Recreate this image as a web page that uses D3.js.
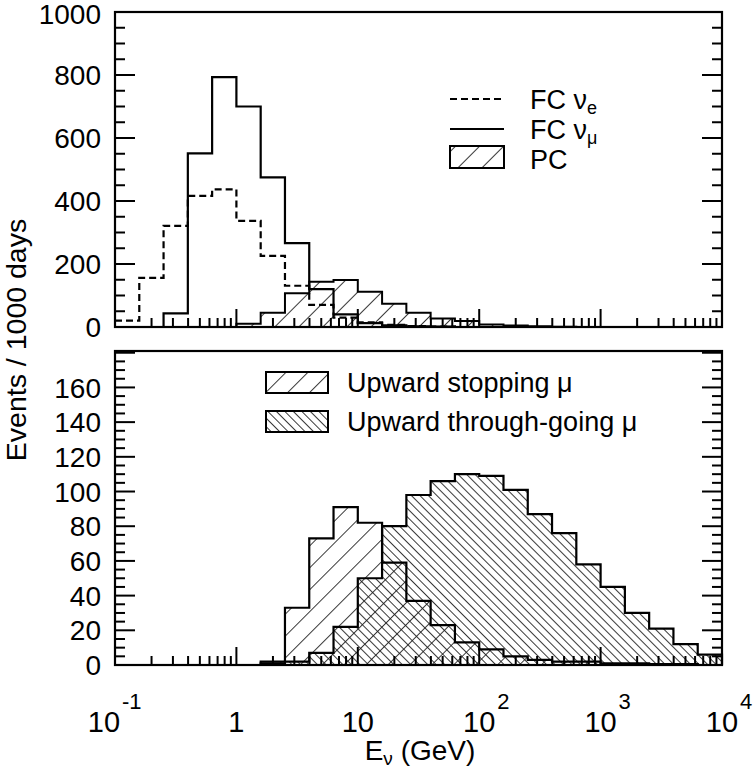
<!DOCTYPE html>
<html><head><meta charset="utf-8">
<script src="https://cdn.jsdelivr.net/npm/d3@7"></script>
<style>
html,body{margin:0;padding:0;background:#fff;}
svg{display:block;}
text{font-family:"Liberation Sans",Arial,Helvetica,sans-serif;fill:#000;}
</style></head>
<body>
<svg id="chart" width="756" height="770"></svg>
<script>
// ---- data ----
const binEdges = [0.1,0.1585,0.2512,0.3981,0.631,1,1.585,2.512,3.981,6.31,10,15.85,25.12,39.81,63.1,100,158.5,251.2,398.1,631,1000,1585,2512,3981,6310,10000];
const fcNue  = [20,156,321,416,437,337,226,131,70,30,15,7,3,1,0,0,0,0,0,0,0,0,0,0,0];
const fcNumu = [0,0,43,551,793,700,475,266,120,40,12,5,2,1,0,0,0,0,0,0,0,0,0,0,0];
const pc     = [0,0,0,0,0,10,45,107,144,149,112,74,45,27,19,8,5,2,1,0,0,0,0,0,0];
const upStop = [0,0,0,0,0,0,2,33,73,91,82,59,37,23,13,9,5,3,2,2,1,1,0.5,0.5,0];
const upThru = [0,0,0,0,0,0,1,2,7,22,50,80,98,106,110,109,101,87,76,58,45,30,21,12,6];
const topYTicks = [0,200,400,600,800,1000];
const botYTicks = [0,20,40,60,80,100,120,140,160];
const xTickLabels = [{v:0.1,b:"10",e:"-1"},{v:1,b:"1",e:""},{v:10,b:"10",e:""},{v:100,b:"10",e:"2"},{v:1000,b:"10",e:"3"},{v:10000,b:"10",e:"4"}];

// ---- layout ----
const svg = d3.select("#chart");
const L = 115, R = 722;
const x = d3.scaleLog().domain([0.1,1e4]).range([L,R]);
const yTop = d3.scaleLinear().domain([0,1000]).range([327,12]);
const yBot = d3.scaleLinear().domain([0,181]).range([665,351]);

// hatch patterns
const defs = svg.append("defs");
function hatch(id, spacing, angle){
  const p = defs.append("pattern").attr("id",id).attr("patternUnits","userSpaceOnUse")
    .attr("width",spacing).attr("height",spacing).attr("patternTransform",`rotate(${angle})`);
  p.append("line").attr("x1",0.5).attr("y1",-1).attr("x2",0.5).attr("y2",spacing+1)
    .attr("stroke","#222").attr("stroke-width",0.9);
}
hatch("hPC",17,45);
hatch("hStop",15.5,45);
hatch("hThru",6,-45);

function stepLine(vals, y, startAtEdge){
  const n = vals.length;
  let first = vals.findIndex(v=>v>0), last = n-1;
  while(last>0 && !(vals[last]>0)) last--;
  const p = d3.path();
  if(startAtEdge && first===0) p.moveTo(x(binEdges[0]), y(vals[0]));
  else p.moveTo(x(binEdges[first]), y(0));
  for(let i=first;i<=last;i++){
    p.lineTo(x(binEdges[i]), y(vals[i]));
    p.lineTo(x(binEdges[i+1]), y(vals[i]));
  }
  p.lineTo(x(binEdges[last+1]), y(0));
  return p.toString();
}

// ---- top panel ----
const gT = svg.append("g");
gT.append("path").attr("d",stepLine(pc,yTop)).attr("fill","url(#hPC)").attr("stroke","none");
gT.append("path").attr("d",stepLine(pc,yTop)).attr("fill","none").attr("stroke","#000").attr("stroke-width",2);
gT.append("path").attr("d",stepLine(fcNumu,yTop)).attr("fill","none").attr("stroke","#000").attr("stroke-width",2.2);
gT.append("path").attr("d",stepLine(fcNue,yTop,true)).attr("fill","none").attr("stroke","#000").attr("stroke-width",2.2).attr("stroke-dasharray","7,4");

// ---- bottom panel ----
const gB = svg.append("g");
gB.append("path").attr("d",stepLine(upThru,yBot)).attr("fill","url(#hThru)");
gB.append("path").attr("d",stepLine(upStop,yBot)).attr("fill","url(#hStop)");
gB.append("path").attr("d",stepLine(upThru,yBot)).attr("fill","none").attr("stroke","#000").attr("stroke-width",2.2);
gB.append("path").attr("d",stepLine(upStop,yBot)).attr("fill","none").attr("stroke","#000").attr("stroke-width",2.2);

// ---- frames & ticks ----
function frame(g, y, majorStep, minorStep, maxV){
  const [y0,y1] = y.range();
  g.append("rect").attr("x",L).attr("y",y1).attr("width",R-L).attr("height",y0-y1)
    .attr("fill","none").attr("stroke","#000").attr("stroke-width",2.2);
  const minor = d3.range(0, maxV+0.001, minorStep);
  minor.forEach(v=>{
    const major = Math.abs(v/majorStep - Math.round(v/majorStep))<1e-6;
    const len = major?20:10;
    const yy = y(v);
    g.append("line").attr("x1",L).attr("x2",L+len).attr("y1",yy).attr("y2",yy).attr("stroke","#000").attr("stroke-width",2);
    g.append("line").attr("x1",R).attr("x2",R-len).attr("y1",yy).attr("y2",yy).attr("stroke","#000").attr("stroke-width",2);
  });
  for(let k=-1;k<4;k++){
    for(let d=1;d<10;d++){
      const v = d*Math.pow(10,k);
      if(v<=0.1) continue;
      const len = d===1?18:9;
      const xx = x(v);
      g.append("line").attr("x1",xx).attr("x2",xx).attr("y1",y0).attr("y2",y0-len).attr("stroke","#000").attr("stroke-width",2);
    }
  }
}
frame(svg.append("g"), yTop, 200, 50, 1000);
frame(svg.append("g"), yBot, 20, 5, 181);

// y tick labels
const fsY = 28, fs = 27;
svg.append("g").selectAll("text").data(topYTicks).join("text")
  .attr("x",101).attr("y",d=>Math.max(yTop(d),14)).attr("dy","0.36em").attr("text-anchor","end")
  .attr("font-size",fsY).text(d=>d);
svg.append("g").selectAll("text").data(botYTicks).join("text")
  .attr("x",101).attr("y",d=>yBot(d)).attr("dy","0.36em").attr("text-anchor","end")
  .attr("font-size",fsY).text(d=>d);

// x tick labels
const xl = svg.append("g");
xTickLabels.forEach(t=>{
  const xx = x(t.v) + (t.e==="-1"?-11:0);
  xl.append("text").attr("x",xx).attr("y",732).attr("text-anchor","middle").attr("font-size",29).text(t.b);
  if(t.e){
    xl.append("text").attr("x",xx+18).attr("y",709).attr("font-size",22).text(t.e);
  }
});

// axis titles
const xt = svg.append("text").attr("x",420).attr("y",760).attr("text-anchor","middle").attr("font-size",28);
xt.append("tspan").text("E");
xt.append("tspan").attr("font-size",19).attr("dy",5).text("ν");
xt.append("tspan").attr("dy",-5).text(" (GeV)");

svg.append("text").attr("transform","translate(26,340) rotate(-90)").attr("text-anchor","middle")
  .attr("font-size",28.5).text("Events / 1000 days");

// ---- legends ----
const lg = svg.append("g");
function legText(x0,y0,main,sub,size){
  const t = lg.append("text").attr("x",x0).attr("y",y0).attr("dy","0.36em").attr("font-size",size||fs);
  t.append("tspan").text(main);
  if(sub){ t.append("tspan").attr("font-size",18).attr("dy",5).text(sub); }
}
lg.append("line").attr("x1",450).attr("x2",504).attr("y1",99).attr("y2",99).attr("stroke","#000").attr("stroke-width",2).attr("stroke-dasharray","7,4");
legText(530,99,"FC ν","e");
lg.append("line").attr("x1",450).attr("x2",504).attr("y1",129).attr("y2",129).attr("stroke","#000").attr("stroke-width",2);
legText(530,129,"FC ν","μ");
lg.append("rect").attr("x",450).attr("y",146).attr("width",54).attr("height",22).attr("fill","url(#hPC)").attr("stroke","#000").attr("stroke-width",2);
legText(530,159,"PC");

lg.append("rect").attr("x",266).attr("y",372).attr("width",62).attr("height",21).attr("fill","url(#hStop)").attr("stroke","#000").attr("stroke-width",2);
legText(347,382,"Upward stopping μ",null,27);
lg.append("rect").attr("x",266).attr("y",411).attr("width",62).attr("height",21).attr("fill","url(#hThru)").attr("stroke","#000").attr("stroke-width",2);
legText(347,421,"Upward through-going μ",null,27);
</script>
</body></html>
